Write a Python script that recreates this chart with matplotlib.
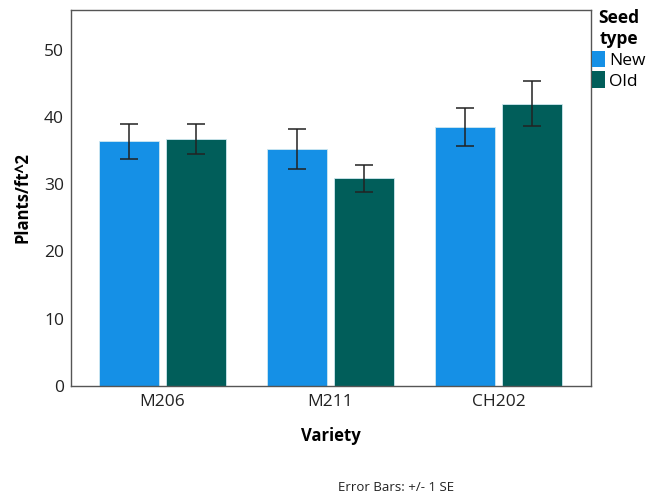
import matplotlib
matplotlib.use("Agg")
import matplotlib.pyplot as plt
import numpy as np
from matplotlib.patches import Patch

plt.rcParams['font.family'] = ['Open Sans', 'DejaVu Sans']

varieties = ["M206", "M211", "CH202"]
seed_types = ["New", "Old"]
new_means = [36.4, 35.2, 38.5]
old_means = [36.7, 30.9, 42.0]
new_se = [2.6, 3.0, 2.8]
old_se = [2.25, 2.0, 3.35]
colors = {"New": "#1590E6", "Old": "#015E5A"}

fig = plt.figure(figsize=(6.57, 4.93), dpi=100)
ax = fig.add_axes([0.108, 0.217, 0.7915, 0.7627])

x = np.arange(len(varieties))
w = 0.357
off = 0.199
for vals, se, name, sign in [(new_means, new_se, "New", -1), (old_means, old_se, "Old", 1)]:
    ax.bar(x + sign * off, vals, width=w, color=colors[name], edgecolor="#cfe8f0", linewidth=0.6)
    ax.errorbar(x + sign * off, vals, yerr=se, fmt="none", ecolor="#222222",
                elinewidth=1.1, capsize=6.5, capthick=1.1)

ax.set_xlim(-0.544, 2.549)
ax.set_ylim(0, 55.9)
ax.set_yticks([0, 10, 20, 30, 40, 50])
ax.set_xticks(x)
ax.set_xticklabels(varieties)
ax.tick_params(axis='both', length=0, labelsize=12.5, colors="#222222")
ax.tick_params(axis='y', pad=5)
ax.tick_params(axis='x', pad=6)
for s in ax.spines.values():
    s.set_color("#555555")
    s.set_linewidth(1.0)

ax.set_xlabel("Variety", fontsize=12, fontweight="bold", labelpad=12)
ax.set_ylabel("Plants/ft^2", fontsize=12, fontweight="bold", labelpad=9)

handles = [Patch(facecolor=colors[n], edgecolor="none") for n in seed_types]
leg = fig.legend(handles, seed_types, title="Seed\ntype", loc="upper left",
                 bbox_to_anchor=(0.899, 0.985), frameon=False, fontsize=12.5,
                 title_fontproperties={"weight": "bold", "size": 12.5},
                 handlelength=0.75, handleheight=1.1, handletextpad=0.2,
                 borderaxespad=0, labelspacing=0.15, borderpad=0.1)
leg._legend_box.align = "center"
leg.get_title().set_multialignment("center")

fig.text(0.603, 0.012, "Error Bars: +/- 1 SE", fontsize=9.5, ha="center", va="center", color="#222222")

fig.savefig("out.png", dpi=100)
